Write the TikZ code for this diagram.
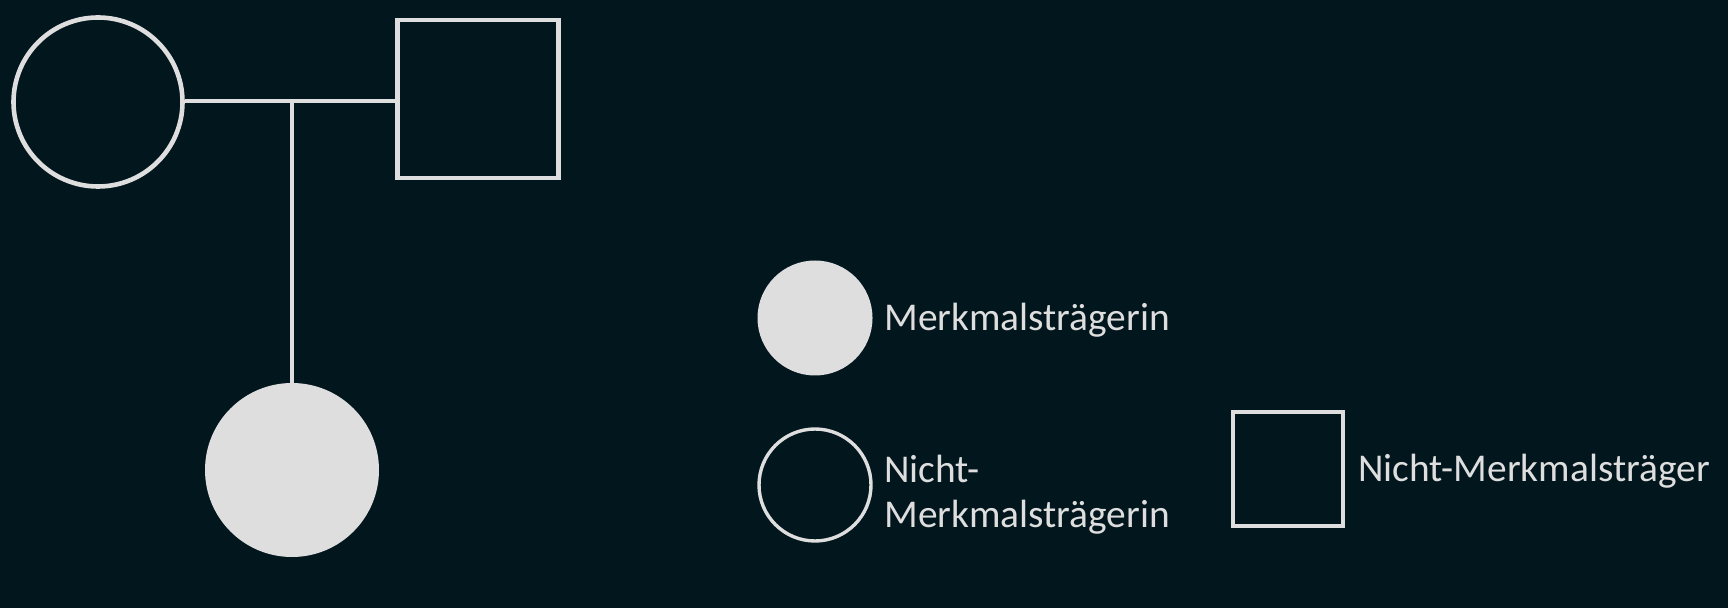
\documentclass[tikz,border=0pt]{standalone}
\usepackage{fontspec}
\setmainfont{Carlito}
\definecolor{bg}{HTML}{02161D}
\definecolor{fg}{HTML}{DEDEDE}
\begin{document}
\begin{tikzpicture}[x=0.5pt,y=-0.5pt,
  female/.style={circle,draw=fg,line width=2.3pt,inner sep=0pt,minimum size=#1},
  male/.style={rectangle,draw=fg,line width=2.3pt,inner sep=0pt},
  affected/.style={circle,fill=fg,inner sep=0pt,minimum size=#1},
  link/.style={draw=fg,line width=2.1pt},
  lbl/.style={text=fg,inner sep=0pt,anchor=base west,font=\fontsize{19.7}{22.5}\selectfont,align=left}]
\fill[bg] (0,0) rectangle (1728,608);
\useasboundingbox (0,0) rectangle (1728,608);
% pedigree
\node[female=84.5pt] (mother) at (98,102) {};
\node[male,minimum width=80.5pt,minimum height=79pt] (father) at (478,99) {};
\coordinate (mid) at (292,101);
\node[affected=87pt] (child) at (292,470) {};
\draw[link] (mother.east |- mid) -- (father.west |- mid);
\draw[link] (mid) -- (child.north);
% legend
\node[affected=57.5pt] (lgA) at (815,318) {};
\node[lbl] (tA) at (884,331) {Merkmalsträgerin};
\node[female=56pt,line width=1.7pt] (lgF) at (815,485) {};
\node[lbl,anchor=north west] (tF) at (884,455) {Nicht-\\Merkmalsträgerin};
\node[male,line width=1.9pt,minimum width=55pt,minimum height=57pt] (lgM) at (1288,469) {};
\node[lbl] (tM) at (1358,481.5) {Nicht-Merkmalsträger};
\end{tikzpicture}
\end{document}
